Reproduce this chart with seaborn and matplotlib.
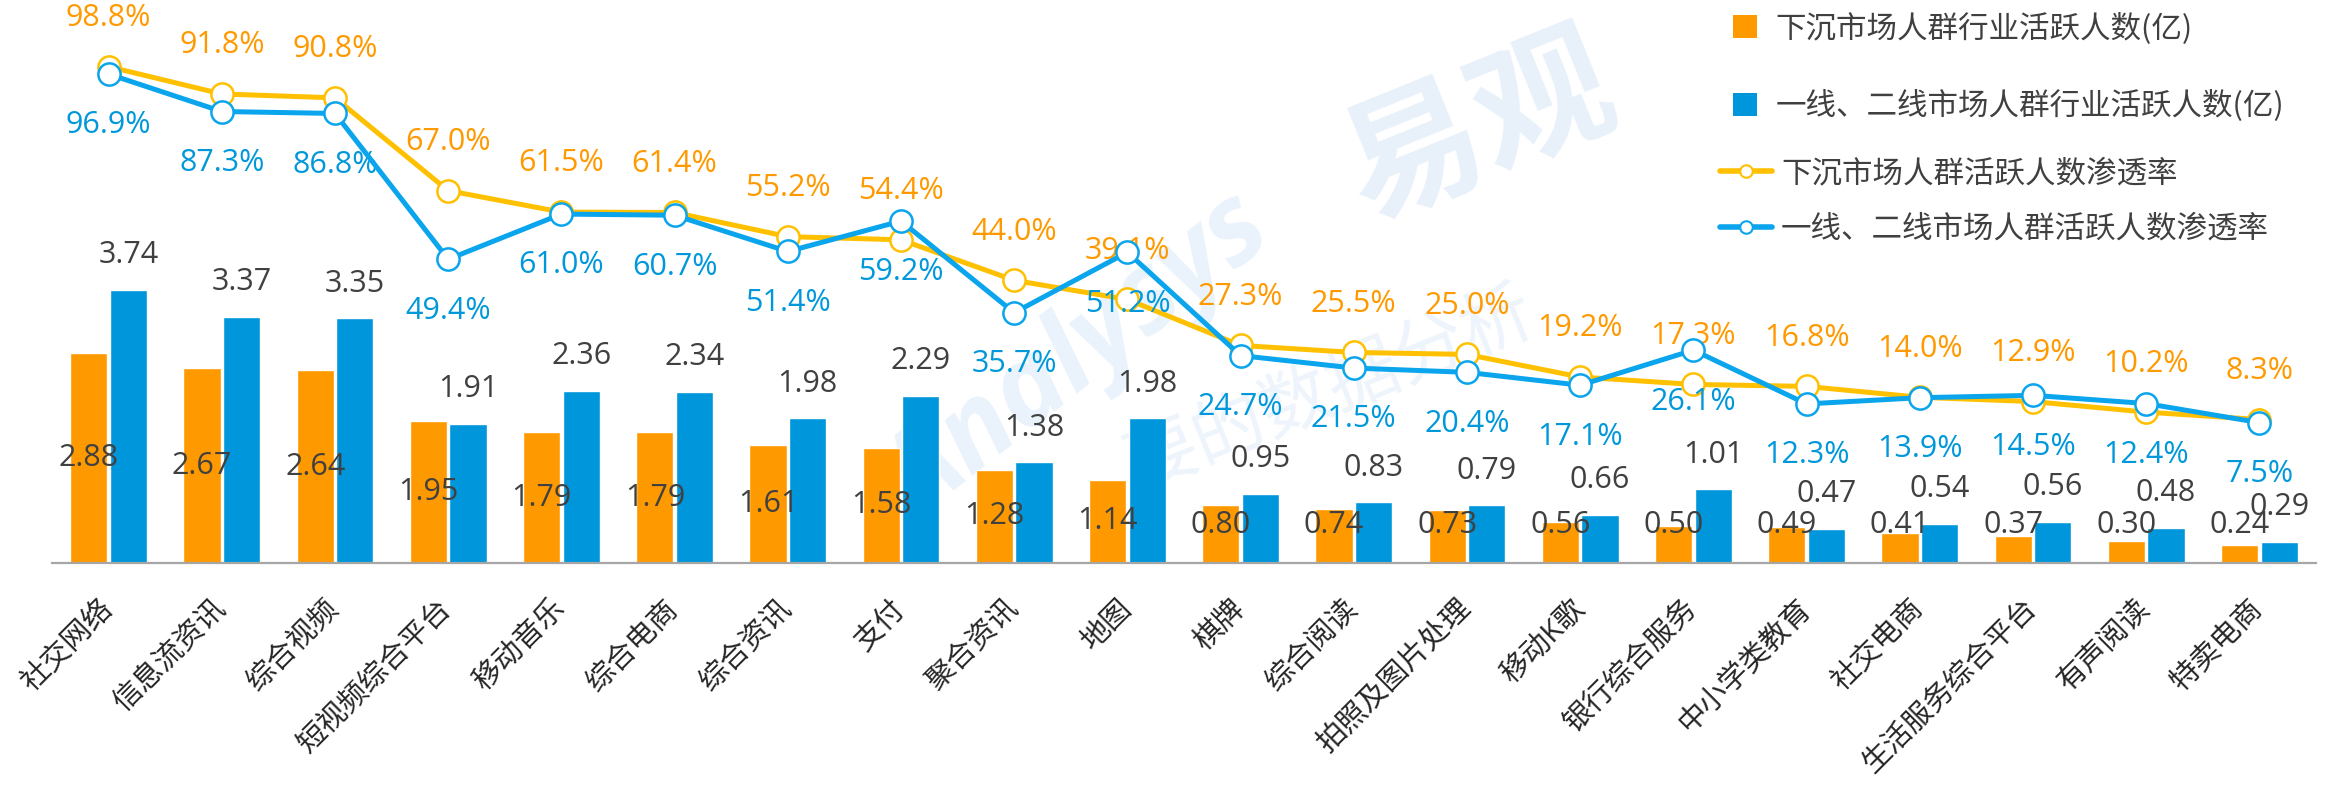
import numpy as np
import pandas as pd
import seaborn as sns
import matplotlib.pyplot as plt
from matplotlib.patches import Patch
from matplotlib.lines import Line2D

# 行业类别
categories = ["社交网络", "信息流资讯", "综合视频", "短视频综合平台", "移动音乐", "综合电商",
              "综合资讯", "支付", "聚合资讯", "地图", "棋牌", "综合阅读", "拍照及图片处理",
              "移动K歌", "银行综合服务", "中小学类教育", "社交电商", "生活服务综合平台",
              "有声阅读", "特卖电商"]

# 活跃人数(亿)
lower_users = [2.88, 2.67, 2.64, 1.95, 1.79, 1.79, 1.61, 1.58, 1.28, 1.14,
               0.80, 0.74, 0.73, 0.56, 0.50, 0.49, 0.41, 0.37, 0.30, 0.24]
tier12_users = [3.74, 3.37, 3.35, 1.91, 2.36, 2.34, 1.98, 2.29, 1.38, 1.98,
                0.95, 0.83, 0.79, 0.66, 1.01, 0.47, 0.54, 0.56, 0.48, 0.29]

# 渗透率(%)
lower_rate = [98.8, 91.8, 90.8, 67.0, 61.5, 61.4, 55.2, 54.4, 44.0, 39.1,
              27.3, 25.5, 25.0, 19.2, 17.3, 16.8, 14.0, 12.9, 10.2, 8.3]
tier12_rate = [96.9, 87.3, 86.8, 49.4, 61.0, 60.7, 51.4, 59.2, 35.7, 51.2,
               24.7, 21.5, 20.4, 17.1, 26.1, 12.3, 13.9, 14.5, 12.4, 7.5]

series_names = ["下沉市场人群行业活跃人数(亿)", "一线、二线市场人群行业活跃人数(亿)",
                "下沉市场人群活跃人数渗透率", "一线、二线市场人群活跃人数渗透率"]

ORANGE = "#FF9900"
BLUE = "#0096DC"
LINE_ORANGE = "#FFC000"
LINE_BLUE = "#0AA5EC"
TXT_BLUE = "#0098DB"
GREY = "#404040"

sns.set_style("white")
plt.rcParams["font.family"] = ["Open Sans", "Noto Sans CJK SC", "DejaVu Sans"]

df = pd.DataFrame({
    "品类": categories * 2,
    "人数": lower_users + tier12_users,
    "人群": [series_names[0]] * len(categories) + [series_names[1]] * len(categories),
})

W, H = 2341, 796
fig = plt.figure(figsize=(W / 100, H / 100), dpi=100)
ax = fig.add_axes([52 / W, (H - 563) / H, (2316 - 52) / W, 563 / H])

sns.barplot(data=df, x="品类", y="人数", hue="人群", palette=[ORANGE, BLUE],
            width=0.698, gap=0.06, saturation=1, errorbar=None, legend=False, ax=ax)
ax.set_xlim(-0.5, len(categories) - 0.5)
ax.set_ylim(0, 7.71)
ax.set_xlabel("")
ax.set_ylabel("")
ax.set_yticks([])
for s in ["top", "left", "right"]:
    ax.spines[s].set_visible(False)
ax.spines["bottom"].set_color("#A6A6A6")
ax.spines["bottom"].set_linewidth(1.6)
ax.tick_params(axis="x", length=0, pad=30, labelsize=21, labelcolor="#262626")
for lab in ax.get_xticklabels():
    lab.set_rotation(45)
    lab.set_ha("right")
    lab.set_va("center")
    lab.set_rotation_mode("anchor")
ax.patch.set_visible(False)

# bar value labels
orange_bars, blue_bars = ax.containers[0], ax.containers[1]
for p, v in zip(orange_bars, lower_users):
    cx = p.get_x() + p.get_width() / 2
    ax.text(cx, max(v / 2, 0.52), f"{v:.2f}", ha="center", va="center",
            fontsize=22, color=GREY, zorder=5)
for p, v in zip(blue_bars, tier12_users):
    cx = p.get_x() + p.get_width() / 2
    ax.annotate(f"{v:.2f}", (cx, v), xytext=(0, 25), textcoords="offset points",
                ha="center", va="center", fontsize=22, color=GREY, zorder=5)

# penetration lines
ax2 = ax.twinx()
ax2.patch.set_visible(False)
xpos = np.arange(len(categories))
sns.lineplot(x=xpos, y=lower_rate, ax=ax2, color=LINE_ORANGE, lw=3.6, marker="o",
             ms=16, mfc="white", mec=LINE_ORANGE, mew=1.8, sort=False, zorder=3)
sns.lineplot(x=xpos, y=tier12_rate, ax=ax2, color=LINE_BLUE, lw=3.6, marker="o",
             ms=16, mfc="white", mec=LINE_BLUE, mew=1.8, sort=False, zorder=4)
ax2.set_ylim(-28.5, 115.9)
ax2.set_yticks([])
for s in ["top", "left", "right", "bottom"]:
    ax2.spines[s].set_visible(False)

for i, v in enumerate(lower_rate):
    ax2.annotate(f"{v:.1f}%", (i, v), xytext=(0, 35), textcoords="offset points",
                 ha="center", va="center", fontsize=22, color=ORANGE)
for i, v in enumerate(tier12_rate):
    ax2.annotate(f"{v:.1f}%", (i, v), xytext=(0, -37), textcoords="offset points",
                 ha="center", va="center", fontsize=22, color=TXT_BLUE)

# legends
leg_font = {"family": ["Noto Sans CJK SC"], "size": 22}
bar_handles = [Patch(facecolor=ORANGE, edgecolor="none"),
               Patch(facecolor=BLUE, edgecolor="none")]
leg1 = fig.legend(bar_handles, series_names[:2], loc="upper left",
                  bbox_to_anchor=(1733 / W, 1 - 12 / H), frameon=False, prop=leg_font,
                  handlelength=0.8, handleheight=0.8, handletextpad=0.6,
                  labelspacing=1.5, borderpad=0, borderaxespad=0, labelcolor="#404040")
line_handles = [Line2D([], [], color=LINE_ORANGE, lw=4, marker="o", ms=9, mfc="white",
                       mec=LINE_ORANGE, mew=1.5),
                Line2D([], [], color=LINE_BLUE, lw=4, marker="o", ms=9, mfc="white",
                       mec=LINE_BLUE, mew=1.5)]
leg2 = fig.legend(line_handles, series_names[2:], loc="upper left",
                  bbox_to_anchor=(1720 / W, 1 - 158 / H), frameon=False, prop=leg_font,
                  handlelength=1.7, handletextpad=0.3, labelspacing=0.8,
                  borderpad=0, borderaxespad=0, labelcolor="#404040")

# faint watermark
fig.text(1480 / W, 1 - 130 / H, "易观", fontsize=100, color="#E8F1FA", rotation=22,
         ha="center", va="center", family=["Noto Sans CJK SC"], fontweight="bold", zorder=-1)
fig.text(1080 / W, 1 - 360 / H, "Analysys", fontsize=80, color="#EAF3FB", rotation=38,
         ha="center", va="center", style="italic", fontweight="bold", zorder=-1)
fig.text(1330 / W, 1 - 390 / H, "要的数据分析", fontsize=52, color="#EDF4FB", rotation=22,
         ha="center", va="center", family=["Noto Sans CJK SC"], zorder=-1)

fig.savefig("out.png", dpi=100)
